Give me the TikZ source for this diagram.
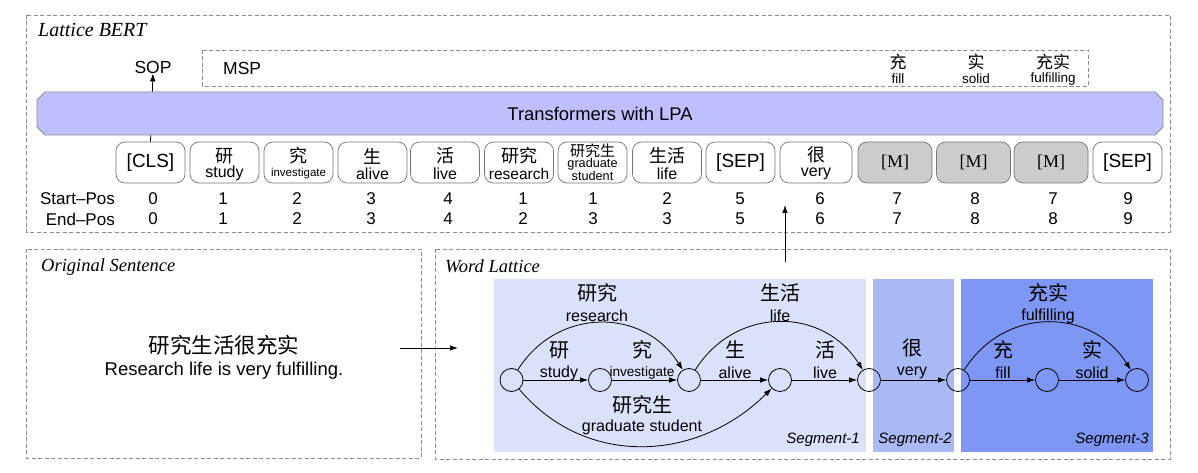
\documentclass[tikz,border=0pt]{standalone}
\usepackage{fontspec}
\setmainfont{Liberation Sans}
\newfontfamily\cjk{Noto Sans CJK SC}
\newfontfamily\tms{Liberation Serif}
\usetikzlibrary{arrows.meta}
\definecolor{barfill}{RGB}{191,191,255}
\definecolor{segA}{RGB}{218,225,250}
\definecolor{segB}{RGB}{168,185,245}
\definecolor{segC}{RGB}{126,151,244}
\definecolor{mgray}{RGB}{204,204,204}
\newcommand\fsz[1]{\fontsize{#1}{#1}\selectfont}
\begin{document}
\begin{tikzpicture}[x=1pt,y=1pt,
  dashbox/.style={draw=black!45, dash pattern=on 4pt off 2.5pt, line width=0.7pt},
  tok/.style={draw=black!55, rounded corners=9pt, minimum width=69pt, minimum height=41pt, inner sep=0pt, line width=0.7pt, fill=white},
  mtok/.style={tok, fill=mgray, minimum width=74pt},
  cn/.style={inner sep=0pt, font=\cjk\fsz{18}},
  en/.style={inner sep=0pt, font=\fsz{16}},
  tokbig/.style={inner sep=0pt, font=\fsz{19}},
  mlab/.style={inner sep=0pt, font=\tms\fsz{18}},
  num/.style={inner sep=0pt, font=\fsz{17}},
  title/.style={inner sep=0pt, anchor=west, font=\tms\itshape\fsz{18.5}},
  lcn/.style={inner sep=0pt, font=\cjk\fsz{20}},
  len/.style={inner sep=0pt, font=\fsz{16}},
  seglab/.style={inner sep=0pt, anchor=east, font=\itshape\fsz{15}},
  lat/.style={circle, draw, line width=0.8pt, minimum size=23pt, inner sep=0pt},
  arr/.style={-{Latex[length=8pt,width=5.5pt]}, line width=0.8pt},
]
\useasboundingbox (0,0) rectangle (1198,473);

% outer boxes
\draw[dashbox] (26,458) rectangle (1170,241);
\draw[dashbox] (26,224) rectangle (421,15);
\draw[dashbox] (435,224) rectangle (1170,14);
\node[title, font=\tms\itshape\fsz{20}] (tLB) at (38,443) {Lattice BERT};
\node[title] (tOS) at (41,206) {Original Sentence};
\node[title] (tWL) at (445,207) {Word Lattice};

% MSP box
\draw[dashbox] (202,423) rectangle (1088,387);
\node[inner sep=0pt, anchor=west, font=\fsz{17.5}] (msp) at (223,405) {MSP};
\node[inner sep=0pt, font=\fsz{17.5}] (sop) at (153,406) {SOP};
\node[cn, font=\cjk\fsz{17}] (p1c) at (898,411) {充};
\node[en, font=\fsz{13.5}] (p1e) at (898,394) {fill};
\node[cn, font=\cjk\fsz{17}] (p2c) at (976,411) {实};
\node[en, font=\fsz{13.5}] (p2e) at (976,394) {solid};
\node[cn, font=\cjk\fsz{17}] (p3c) at (1053,411) {充实};
\node[en, font=\fsz{13.5}] (p3e) at (1053,394) {fulfilling};

% tokens
\node[tok] (k1) at (150.5,310.5) {};
\node[tokbig] (k1t) at (150.5,310.5) {[CLS]};
\node[tok] (k2) at (224.5,310.5) {};
\node[cn] (k2c) at (224.5,317) {研};
\node[en] (k2e) at (224.5,299.5) {study};
\node[tok] (k3) at (298.5,310.5) {};
\node[cn] (k3c) at (298.5,317) {究};
\node[en, font=\fsz{11.5}] (k3e) at (298.5,299) {investigate};
\node[tok] (k4) at (372.5,310.5) {};
\node[cn] (k4c) at (372.5,317) {生};
\node[en] (k4e) at (372.5,299.5) {alive};
\node[tok] (k5) at (445,310.5) {};
\node[cn] (k5c) at (445,317) {活};
\node[en] (k5e) at (445,299.5) {live};
\node[tok] (k6) at (519,310.5) {};
\node[cn] (k6c) at (519,317) {研究};
\node[en, font=\fsz{15.5}] (k6e) at (519,299.5) {research};
\node[tok] (k7) at (592.5,310.5) {};
\node[cn, font=\cjk\fsz{15}] (k7c) at (592.5,322) {研究生};
\node[en, font=\fsz{12.7}] (k7e) at (592.5,309) {graduate};
\node[en, font=\fsz{12.7}] (k7f) at (592.5,297.5) {student};
\node[tok] (k8) at (667,310.5) {};
\node[cn] (k8c) at (667,317) {生活};
\node[en] (k8e) at (667,299.5) {life};
\node[tok] (k9) at (740.5,310.5) {};
\node[tokbig] (k9t) at (740.5,310.5) {[SEP]};
\node[tok, minimum width=72pt] (k10) at (816,310.5) {};
\node[cn] (k10c) at (816,318) {很};
\node[en] (k10e) at (816,299) {very};
\node[mtok] (k11) at (895,310.5) {};
\node[mlab] (k11t) at (895,310.5) {[M]};
\node[mtok] (k12) at (973.5,310.5) {};
\node[mlab] (k12t) at (973.5,310.5) {[M]};
\node[mtok] (k13) at (1051,310.5) {};
\node[mlab] (k13t) at (1051,310.5) {[M]};
\node[tok] (k14) at (1127.5,310.5) {};
\node[tokbig] (k14t) at (1127.5,310.5) {[SEP]};

% SOP arrow (behind bar)
\draw[arr] (k1.north) -- (sop.south);

% transformer bar
\draw[draw=black!45, line width=0.8pt, fill=barfill]
  (45,381) -- (1155,381) -- (1163,373) -- (1163,346) -- (1155,338)
  -- (45,338) -- (37,346) -- (37,373) -- cycle;
\node[inner sep=0pt, font=\fsz{18.4}] (tr) at (600,359.5) {Transformers with LPA};

% positions
\node[num, anchor=east] (sp) at (115,274) {Start–Pos};
\node[num, anchor=east] (ep) at (115,254) {End–Pos};
\foreach \x/\s/\e [count=\i] in {153/0/0,223/1/1,297/2/2,371/3/3,448/4/4,523/1/2,593/1/3,667/2/3,740/5/5,820/6/6,897/7/7,975/8/8,1053/7/8,1128/9/9}{
  \node[num] (s\i) at (\x,274) {\s};
  \node[num] (e\i) at (\x,254) {\e};
}

% original sentence
\node[inner sep=0pt, font=\cjk\fsz{21.5}] (osc) at (224,128) {研究生活很充实};
\node[inner sep=0pt, font=\fsz{18.5}] (ose) at (224,102) {Research life is very fulfilling.};
\coordinate (oa) at (400,125);
\coordinate (ob) at (458,125);
\draw[arr] (oa) -- (ob);

% lattice to tokens arrow
\coordinate (la) at (785,211);
\coordinate (lb) at (785,268);
\draw[arr] (la) -- (lb);

% segments
\fill[segA] (494,194) rectangle (866,21);
\fill[segB] (873,194) rectangle (954,21);
\fill[segC] (961,194) rectangle (1153,21);
\node[seglab] (sg1) at (860,33) {Segment-1};
\node[seglab] (sg2) at (952,33) {Segment-2};
\node[seglab] (sg3) at (1149,33) {Segment-3};

% lattice nodes
\node[lat] (n0) at (511.5,93) {};
\node[lat] (n1) at (600,93) {};
\node[lat] (n2) at (689,93) {};
\node[lat] (n3) at (780,93) {};
\node[lat] (n4) at (869,93) {};
\node[lat] (n5) at (958,93) {};
\node[lat] (n6) at (1047,93) {};
\node[lat] (n7) at (1137,93) {};

\draw[arr] (n0) -- (n1);
\draw[arr] (n1) -- (n2);
\draw[arr] (n2) -- (n3);
\draw[arr] (n3) -- (n4);
\draw[arr] (n4) -- (n5);
\draw[arr] (n5) -- (n6);
\draw[arr] (n6) -- (n7);
\draw[arr] (n0) to[out=58,in=122,looseness=1.15] (n2);
\draw[arr] (n2) to[out=58,in=122,looseness=1.15] (n4);
\draw[arr] (n5) to[out=58,in=122,looseness=1.15] (n7);
\draw[arr] (n0) to[out=-50,in=-135,looseness=1.05] (n3);

% lattice labels
\node[lcn] (a1c) at (559,123) {研};
\node[len] (a1e) at (559,100) {study};
\node[lcn] (a2c) at (642,123) {究};
\node[len, font=\fsz{13.6}] (a2e) at (642,100) {investigate};
\node[lcn] (a3c) at (735,123) {生};
\node[len] (a3e) at (735,100) {alive};
\node[lcn] (a4c) at (825,123) {活};
\node[len] (a4e) at (825,100) {live};
\node[lcn] (a5c) at (912,125) {很};
\node[len] (a5e) at (912,100) {very};
\node[lcn] (a6c) at (1003,123) {充};
\node[len] (a6e) at (1003,100) {fill};
\node[lcn] (a7c) at (1092,123) {实};
\node[len] (a7e) at (1092,100) {solid};
\node[lcn] (b1c) at (597,180) {研究};
\node[len] (b1e) at (597,157) {research};
\node[lcn] (b2c) at (780,180) {生活};
\node[len] (b2e) at (780,157) {life};
\node[lcn] (b3c) at (1048,180) {充实};
\node[len] (b3e) at (1048,157) {fulfilling};
\node[lcn] (c1c) at (642,68) {研究生};
\node[len] (c1e) at (642,46) {graduate student};
\end{tikzpicture}
\end{document}
